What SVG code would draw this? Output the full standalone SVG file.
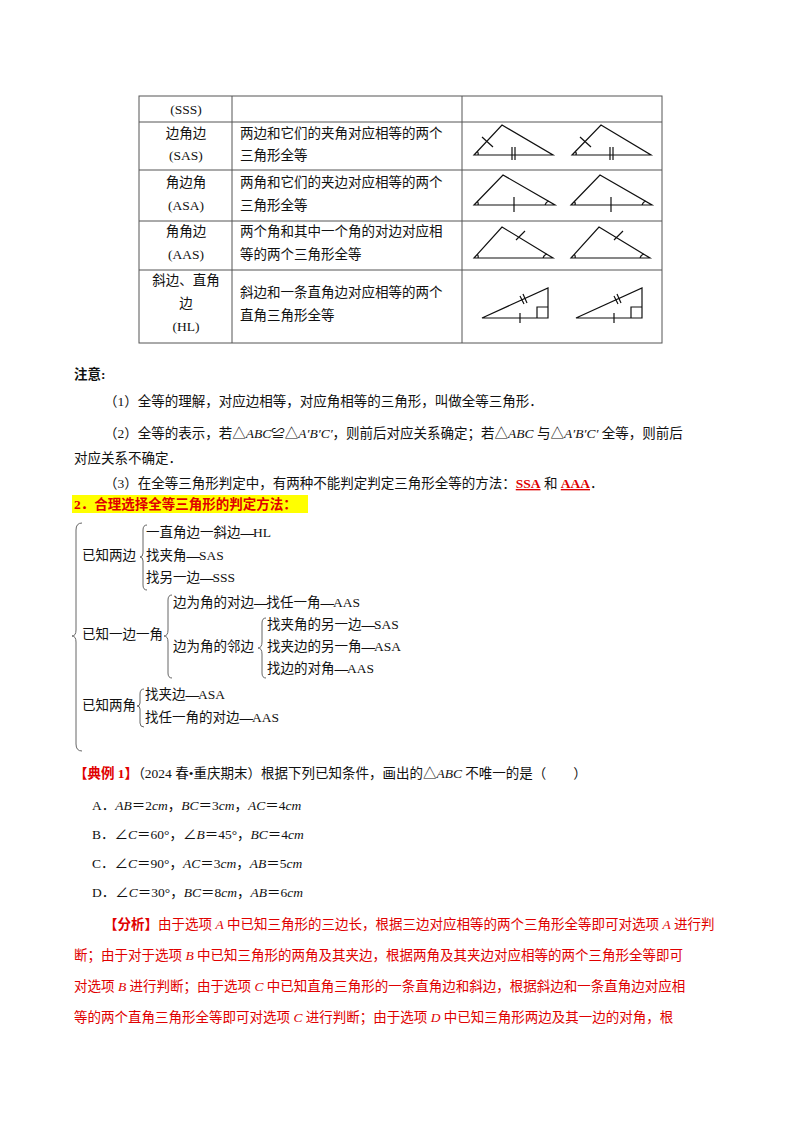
<svg xmlns="http://www.w3.org/2000/svg" width="800" height="1132" viewBox="0 0 800 1132">
<style>
text{font-family:"Liberation Serif","Noto Sans CJK SC",serif;font-size:13.5px;fill:#111}
.r{fill:#e00000}
.d{font-weight:bold;letter-spacing:-1px}
.t{fill:none;stroke:#111;stroke-width:1.2}
.g{fill:none;stroke:#555;stroke-width:1}
.br{fill:none;stroke:#666;stroke-width:1}
</style>
<rect width="800" height="1132" fill="#fff"/>
<g id="table">
<rect x="139" y="96" width="523" height="247" class="g"/>
<path class="g" d="M232 96V343M462 96V343M139 122H662M139 170H662M139 221H662M139 270H662"/>
<text x="186" y="114" text-anchor="middle">(SSS)</text>
<text x="186" y="138" text-anchor="middle">边角边</text>
<text x="186" y="160" text-anchor="middle">(SAS)</text>
<text x="186" y="187" text-anchor="middle">角边角</text>
<text x="186" y="210" text-anchor="middle">(ASA)</text>
<text x="186" y="236" text-anchor="middle">角角边</text>
<text x="186" y="259" text-anchor="middle">(AAS)</text>
<text x="186" y="285" text-anchor="middle">斜边、直角</text>
<text x="186" y="308" text-anchor="middle">边</text>
<text x="186" y="331" text-anchor="middle">(HL)</text>
<text x="240" y="138">两边和它们的夹角对应相等的两个</text>
<text x="240" y="160">三角形全等</text>
<text x="240" y="187">两角和它们的夹边对应相等的两个</text>
<text x="240" y="210">三角形全等</text>
<text x="240" y="236">两个角和其中一个角的对边对应相</text>
<text x="240" y="259">等的两个三角形全等</text>
<text x="240" y="297">斜边和一条直角边对应相等的两个</text>
<text x="240" y="320">直角三角形全等</text>
</g>
<g id="triangles" class="t">
<path d="M474 155L502 125L553 155Z M482 137L493 147 M512 147V160 M515 147V160 M478 155a4 4 0 0 0 -1 -4"/>
<path d="M572 155L601 125L651 155Z M580 137L591 147 M610 147V160 M613 147V160 M576 155a4 4 0 0 0 -1 -4"/>
<path d="M474 205L503 175L555 205Z M514 197V212 M478 205a4 4 0 0 0 -1 -4 M545 205a6 6 0 0 1 4 -4"/>
<path d="M571 205L600 175L652 205Z M611 197V212 M575 205a4 4 0 0 0 -1 -4 M642 205a6 6 0 0 1 4 -4"/>
<path d="M474 258L502 227L553 258Z M516 240L525 231 M478 258a4 4 0 0 0 -1 -4 M543 258a6 6 0 0 1 4 -4"/>
<path d="M571 258L599 227L650 258Z M614 240L623 231 M575 258a4 4 0 0 0 -1 -4 M640 258a6 6 0 0 1 4 -4"/>
<path d="M482 318L548 288V318Z M520 296L524 304 M523 294L527 303 M520 313V323 M537 318V307H548"/>
<path d="M576 318L642 288V318Z M614 296L618 304 M617 294L621 303 M614 313V323 M631 318V307H642"/>
</g>
<g id="notes">
<text x="74" y="379" font-weight="bold">注意:</text>
<text x="104" y="406">（1）全等的理解，对应边相等，对应角相等的三角形，叫做全等三角形．</text>
<text x="104" y="438">（2）全等的表示，若△<tspan font-style="italic">ABC</tspan>≌△<tspan font-style="italic">A′B′C′</tspan>，则前后对应关系确定；若△<tspan font-style="italic">ABC</tspan> 与△<tspan font-style="italic">A′B′C′</tspan> 全等，则前后</text>
<text x="74" y="463">对应关系不确定．</text>
<text x="104" y="488">（3）在全等三角形判定中，有两种不能判定判定三角形全等的方法：<tspan class="r" text-decoration="underline" font-weight="bold">SSA</tspan> 和 <tspan class="r" text-decoration="underline" font-weight="bold">AAA</tspan>．</text>
<rect x="72" y="495" width="236" height="18" fill="#ffff00"/>
<text x="74" y="509" class="r" font-weight="bold">2．合理选择全等三角形的判定方法：</text>
</g>
<g id="tree">
<path class="br" d="M82 523Q76 523 76 530V630Q76 636 72 636Q76 636 76 642V744Q76 751 82 751"/>
<path class="br" d="M147 525Q143 525 143 530V553Q143 557 140 557Q143 557 143 561V585Q143 590 147 590"/>
<path class="br" d="M172 595Q168 595 168 600V630Q168 636 164 636Q168 636 168 642V673Q168 678 172 678"/>
<path class="br" d="M266 618Q262 618 262 623V642Q262 648 258 648Q262 648 262 654V673Q262 678 266 678"/>
<path class="br" d="M144 689Q140 689 140 694V703Q140 706 137 706Q140 706 140 709V723Q140 727 144 727"/>
<text x="146" y="537">一直角边一斜边<tspan class="d">—</tspan>HL</text>
<text x="82" y="560">已知两边</text>
<text x="146" y="560">找夹角<tspan class="d">—</tspan>SAS</text>
<text x="146" y="582">找另一边<tspan class="d">—</tspan>SSS</text>
<text x="173" y="607">边为角的对边<tspan class="d">—</tspan>找任一角<tspan class="d">—</tspan>AAS</text>
<text x="82" y="639">已知一边一角</text>
<text x="267" y="629">找夹角的另一边<tspan class="d">—</tspan>SAS</text>
<text x="173" y="651">边为角的邻边</text>
<text x="267" y="651">找夹边的另一角<tspan class="d">—</tspan>ASA</text>
<text x="267" y="673">找边的对角<tspan class="d">—</tspan>AAS</text>
<text x="82" y="710">已知两角</text>
<text x="145" y="699">找夹边<tspan class="d">—</tspan>ASA</text>
<text x="145" y="722">找任一角的对边<tspan class="d">—</tspan>AAS</text>
</g>
<g id="example">
<text x="74" y="778"><tspan class="r" font-weight="bold">【典例 1】</tspan>（2024 春•重庆期末）根据下列已知条件，画出的△<tspan font-style="italic">ABC</tspan> 不唯一的是（　　）</text>
<text x="92" y="810">A．<tspan font-style="italic">AB</tspan>＝2<tspan font-style="italic">cm</tspan>，<tspan font-style="italic">BC</tspan>＝3<tspan font-style="italic">cm</tspan>，<tspan font-style="italic">AC</tspan>＝4<tspan font-style="italic">cm</tspan></text>
<text x="92" y="839">B．∠<tspan font-style="italic">C</tspan>＝60°，∠<tspan font-style="italic">B</tspan>＝45°，<tspan font-style="italic">BC</tspan>＝4<tspan font-style="italic">cm</tspan></text>
<text x="92" y="868">C．∠<tspan font-style="italic">C</tspan>＝90°，<tspan font-style="italic">AC</tspan>＝3<tspan font-style="italic">cm</tspan>，<tspan font-style="italic">AB</tspan>＝5<tspan font-style="italic">cm</tspan></text>
<text x="92" y="897">D．∠<tspan font-style="italic">C</tspan>＝30°，<tspan font-style="italic">BC</tspan>＝8<tspan font-style="italic">cm</tspan>，<tspan font-style="italic">AB</tspan>＝6<tspan font-style="italic">cm</tspan></text>
<text x="104" y="929" class="r"><tspan font-weight="bold">【分析】</tspan>由于选项 <tspan font-style="italic">A</tspan> 中已知三角形的三边长，根据三边对应相等的两个三角形全等即可对选项 <tspan font-style="italic">A</tspan> 进行判</text>
<text x="74" y="960" class="r">断；由于对于选项 <tspan font-style="italic">B</tspan> 中已知三角形的两角及其夹边，根据两角及其夹边对应相等的两个三角形全等即可</text>
<text x="74" y="991" class="r">对选项 <tspan font-style="italic">B</tspan> 进行判断；由于选项 <tspan font-style="italic">C</tspan> 中已知直角三角形的一条直角边和斜边，根据斜边和一条直角边对应相</text>
<text x="74" y="1022" class="r">等的两个直角三角形全等即可对选项 <tspan font-style="italic">C</tspan> 进行判断；由于选项 <tspan font-style="italic">D</tspan> 中已知三角形两边及其一边的对角，根</text>
</g>
</svg>
